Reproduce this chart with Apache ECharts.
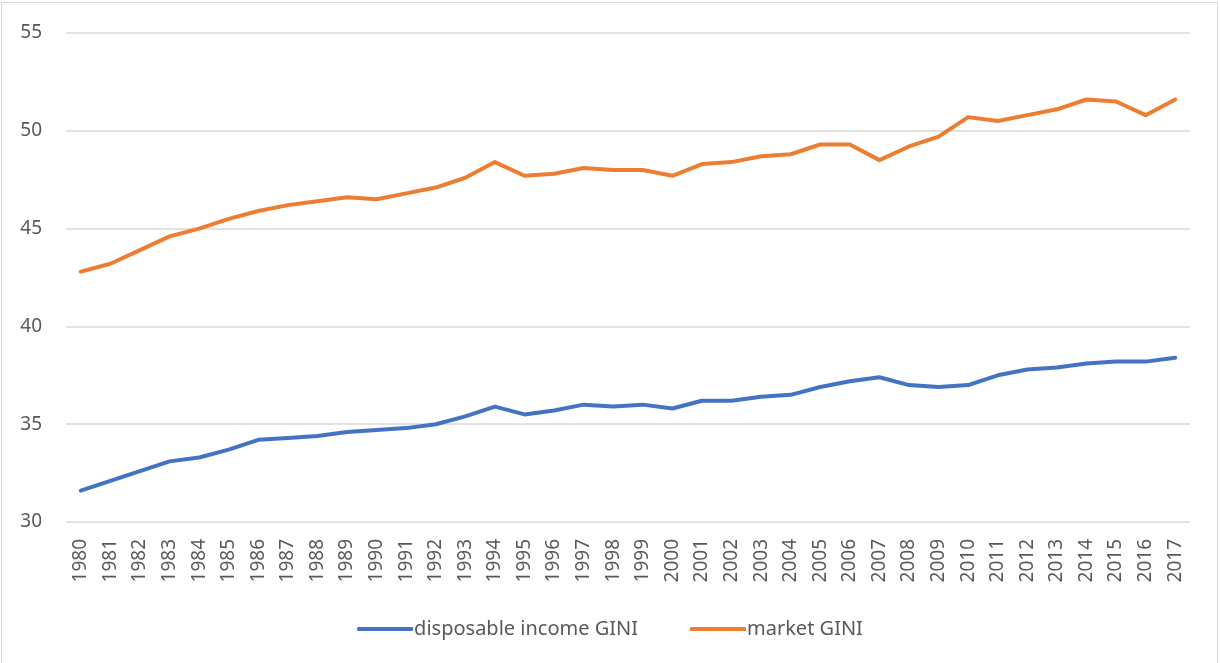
<!DOCTYPE html>
<html>
<head>
<meta charset="utf-8">
<title>GINI</title>
<script src="https://cdn.jsdelivr.net/npm/echarts@6/dist/echarts.min.js"></script>
<style>
  html, body { margin: 0; padding: 0; background: #fff; }
  #frame {
    position: absolute; left: 1px; top: 2px; width: 1217px; height: 661px;
    border-left: 1px solid #d9d9d9; border-right: 1px solid #d9d9d9; border-top: 1px solid #d9d9d9;
    box-sizing: border-box;
  }
  #chart { position: absolute; left: 0; top: 0; width: 1220px; height: 663px; }
</style>
</head>
<body>
<div id="frame"></div>
<div id="chart"></div>
<script>
// 年份
var years = []
for (var y = 1980; y <= 2017; y++) years.push(String(y))

var disposableGini = [
  31.6, 32.1, 32.6, 33.1, 33.3, 33.7, 34.2, 34.3, 34.4, 34.6,
  34.7, 34.8, 35.0, 35.4, 35.9, 35.5, 35.7, 36.0, 35.9, 36.0,
  35.8, 36.2, 36.2, 36.4, 36.5, 36.9, 37.2, 37.4, 37.0, 36.9,
  37.0, 37.5, 37.8, 37.9, 38.1, 38.2, 38.2, 38.4
]

var marketGini = [
  42.8, 43.2, 43.9, 44.6, 45.0, 45.5, 45.9, 46.2, 46.4, 46.6,
  46.5, 46.8, 47.1, 47.6, 48.4, 47.7, 47.8, 48.1, 48.0, 48.0,
  47.7, 48.3, 48.4, 48.7, 48.8, 49.3, 49.3, 48.5, 49.2, 49.7,
  50.7, 50.5, 50.8, 51.1, 51.6, 51.5, 50.8, 51.6
]

var seriesNames = ['disposable income GINI', 'market GINI']

var myChart = echarts.init(document.getElementById('chart'))
var textColor = '#595959'
var font = '"Noto Sans", "Liberation Sans", sans-serif'

myChart.setOption({
  animation: false,
  textStyle: { fontFamily: font },
  color: ['#4472C4', '#ED7D31'],
  grid: {
    left: 66,
    right: 30,
    top: 33,
    bottom: 141,
    containLabel: false
  },
  legend: {
    bottom: 19,
    left: 'center',
    itemWidth: 56,
    itemHeight: 4,
    itemGap: 52,
    icon: 'roundRect',
    textStyle: { color: textColor, fontSize: 20, fontFamily: font, padding: [0, 0, 0, -4] },
    data: seriesNames
  },
  xAxis: {
    type: 'category',
    data: years,
    boundaryGap: true,
    axisLine: { show: false },
    axisTick: { show: false },
    axisLabel: {
      rotate: 90,
      interval: 0,
      color: textColor,
      fontSize: 19,
      margin: 17,
      fontFamily: font
    }
  },
  yAxis: {
    type: 'value',
    min: 30,
    max: 55,
    interval: 5,
    axisLine: { show: false },
    axisTick: { show: false },
    axisLabel: { color: textColor, fontSize: 19, margin: 24, fontFamily: font },
    splitLine: { lineStyle: { color: '#d9d9d9', width: 1.5 } }
  },
  series: [
    {
      name: seriesNames[0],
      type: 'line',
      data: disposableGini,
      showSymbol: false,
      symbol: 'none',
      lineStyle: { width: 4, cap: 'round', join: 'round' }
    },
    {
      name: seriesNames[1],
      type: 'line',
      data: marketGini,
      showSymbol: false,
      symbol: 'none',
      lineStyle: { width: 4, cap: 'round', join: 'round' }
    }
  ]
})
</script>
</body>
</html>
